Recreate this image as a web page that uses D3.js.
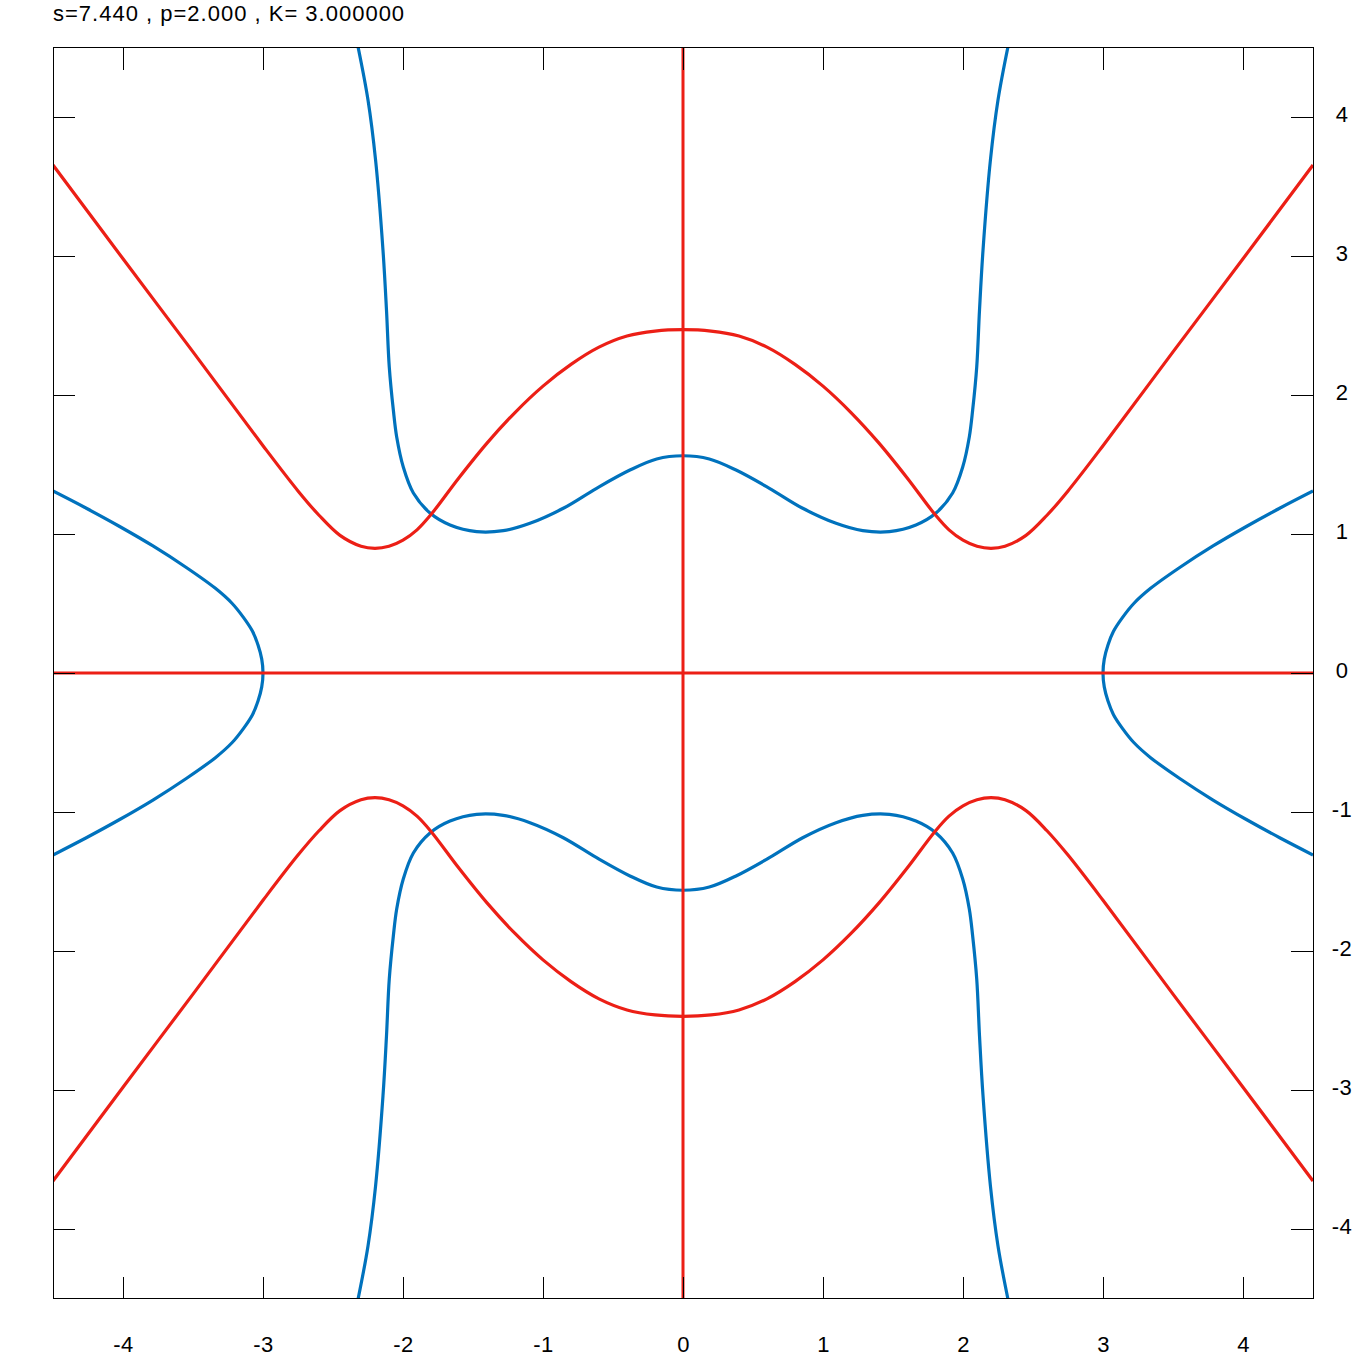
<!DOCTYPE html>
<html>
<head>
<meta charset="utf-8">
<script src="https://cdn.jsdelivr.net/npm/d3@7"></script>
<style>
  html, body { margin: 0; padding: 0; background: #fff; }
  svg { display: block; }
  text { font-family: "Liberation Sans", Arial, sans-serif; fill: #000; }
</style>
</head>
<body>
<svg id="chart" width="1366" height="1366"></svg>
<script>
// ---- Data (upper-left quadrant, picture is symmetric in x and y) ----
const titleText = "s=7.440 , p=2.000 , K= 3.000000";
const xTicks = [-4, -3, -2, -1, 0, 1, 2, 3, 4];
const yTicks = [-4, -3, -2, -1, 0, 1, 2, 3, 4];

// red level curve, upper branch, left half (x from -4.5 to 0)
const redArcX = [-4.5, -4.0, -3.5, -3.0, -2.75, -2.6, -2.45, -2.3, -2.2, -2.1, -2.0, -1.9, -1.8, -1.6, -1.4, -1.2, -1.0, -0.8, -0.6, -0.4, -0.2, 0];
const redArcY = [3.655, 2.98, 2.31, 1.635, 1.31, 1.135, 0.99, 0.912, 0.897, 0.912, 0.956, 1.03, 1.14, 1.405, 1.654, 1.874, 2.064, 2.22, 2.344, 2.424, 2.46, 2.47];

// blue level curve, upper branch, left half (from top edge to x = 0)
const blueArcX = [-2.321, -2.25, -2.196, -2.143, -2.118, -2.098, -2.069, -2.045, -1.998, -1.926, -1.807, -1.664, -1.474, -1.284, -1.093, -0.855, -0.617, -0.379, -0.188, 0];
const blueArcY = [4.504, 4.122, 3.691, 3.043, 2.612, 2.201, 1.892, 1.698, 1.482, 1.295, 1.151, 1.065, 1.017, 1.024, 1.077, 1.185, 1.329, 1.460, 1.540, 1.563];

// blue level curve, left branch, upper half (from left edge to x-axis)
const blueSideX = [-4.5, -4.262, -4.024, -3.786, -3.548, -3.34, -3.22, -3.14, -3.075, -3.035, -3.009, -3.0];
const blueSideY = [1.309, 1.185, 1.054, 0.914, 0.759, 0.609, 0.50, 0.40, 0.30, 0.20, 0.10, 0];

// straight red level lines (the two axes)
const redLineH = [[-4.5, 0], [4.5, 0]];
const redLineV = [[0, -4.5], [0, 4.5]];

// ---- Layout ----
const svg = d3.select("#chart");
const L = 53, R = 1313, T = 47.5, B = 1298.5;
const x = d3.scaleLinear().domain([-4.5, 4.5]).range([L, R]);
const y = d3.scaleLinear().domain([-4.5, 4.5]).range([B, T]);

const RED = "#ec1f16", BLUE = "#0072bd";
const FONT = '"Liberation Sans", Arial, sans-serif';

// build full curves by the picture's symmetry
const zip = (xs, ys) => xs.map((v, i) => [v, ys[i]]);
const redHalf = zip(redArcX, redArcY);
const redTop = redHalf.concat(redHalf.slice(0, -1).reverse().map(p => [-p[0], p[1]]));
const redBottom = redTop.map(p => [p[0], -p[1]]);
const blueHalf = zip(blueArcX, blueArcY);
const blueTop = blueHalf.concat(blueHalf.slice(0, -1).reverse().map(p => [-p[0], p[1]]));
const blueBottom = blueTop.map(p => [p[0], -p[1]]);
const sideHalf = zip(blueSideX, blueSideY);
const blueLeft = sideHalf.concat(sideHalf.slice(0, -1).reverse().map(p => [p[0], -p[1]]));
const blueRight = blueLeft.map(p => [-p[0], p[1]]);

svg.append("defs").append("clipPath").attr("id", "clip")
  .append("rect").attr("x", L).attr("y", T).attr("width", R - L).attr("height", B - T);

const line = d3.line().x(d => x(d[0])).y(d => y(d[1])).curve(d3.curveCatmullRom.alpha(0.5));
const straight = d3.line().x(d => x(d[0])).y(d => y(d[1]));

const g = svg.append("g").attr("clip-path", "url(#clip)");

[blueTop, blueBottom, blueLeft, blueRight].forEach(c =>
  g.append("path").attr("d", line(c)).attr("fill", "none")
   .attr("stroke", BLUE).attr("stroke-width", 3.2).attr("stroke-linejoin", "round"));

[redLineH, redLineV].forEach(c =>
  g.append("path").attr("d", straight(c)).attr("fill", "none")
   .attr("stroke", RED).attr("stroke-width", 3));

[redTop, redBottom].forEach(c =>
  g.append("path").attr("d", line(c)).attr("fill", "none")
   .attr("stroke", RED).attr("stroke-width", 3.2).attr("stroke-linejoin", "round"));

// ---- Axes: box with inward ticks on all four sides, labels bottom and right ----
const tickLen = 22;
const fmt = d => String(d);
const axisBottom = d3.axisBottom(x).tickValues(xTicks).tickSize(0).tickFormat(fmt);
const axisRight = d3.axisRight(y).tickValues(yTicks).tickSize(0).tickFormat(fmt);

const ax = svg.append("g").attr("stroke", "#000").attr("stroke-width", 1).attr("shape-rendering", "crispEdges");
ax.append("rect").attr("x", L).attr("y", T).attr("width", R - L).attr("height", B - T).attr("fill", "none");
xTicks.forEach(t => {
  ax.append("line").attr("x1", x(t)).attr("x2", x(t)).attr("y1", B).attr("y2", B - tickLen);
  ax.append("line").attr("x1", x(t)).attr("x2", x(t)).attr("y1", T).attr("y2", T + tickLen);
});
yTicks.forEach(t => {
  ax.append("line").attr("y1", y(t)).attr("y2", y(t)).attr("x1", L).attr("x2", L + tickLen);
  ax.append("line").attr("y1", y(t)).attr("y2", y(t)).attr("x1", R).attr("x2", R - tickLen);
});

// tick labels via d3 axes (lines hidden, only text kept)
const gb = svg.append("g").attr("transform", `translate(0,${B})`).call(axisBottom);
gb.select(".domain").remove();
gb.selectAll(".tick line").remove();
gb.selectAll(".tick text").attr("y", 0).attr("dy", 0)
  .attr("transform", "translate(0,53)")
  .style("font-size", "22px").style("font-family", FONT).style("letter-spacing", "0.5px")
  .attr("fill", "#000");

const gr = svg.append("g").attr("transform", `translate(${R},0)`).call(axisRight);
gr.select(".domain").remove();
gr.selectAll(".tick text").attr("x", 29).attr("dy", 0).attr("y", 4)
  .attr("text-anchor", "middle")
  .style("font-size", "22px").style("font-family", FONT).style("letter-spacing", "0.5px")
  .attr("fill", "#000");
gr.selectAll(".tick line").remove();

// title
svg.append("text").attr("x", L).attr("y", 21)
  .style("font-size", "22px").style("letter-spacing", "1px").text(titleText);
</script>
</body>
</html>
